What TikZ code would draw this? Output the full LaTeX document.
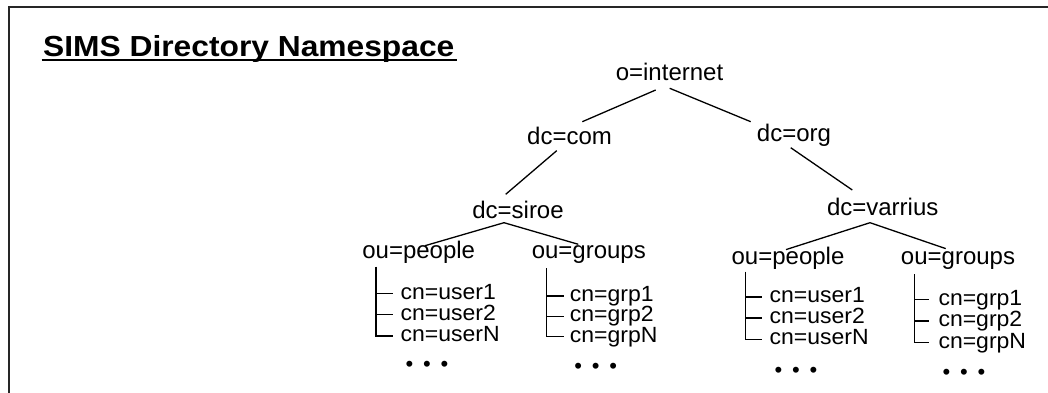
\documentclass[tikz,border=0pt]{standalone}
\usepackage{fontspec}
\setmainfont{Liberation Sans}
\newfontfamily\leaffont[FakeStretch=1.045]{Liberation Sans}
\usetikzlibrary{calc}
\begin{document}
\begin{tikzpicture}[x=1pt,y=-1pt,
  tn/.style={inner sep=0pt, anchor=base, font=\fontsize{24}{28}\selectfont},
  leaf/.style={inner sep=0pt, anchor=base west, text height=14pt, text depth=4pt, font=\leaffont\fontsize{22}{26}\selectfont},
  dotrow/.style={inner sep=0pt, anchor=base, font=\fontsize{22}{24}\selectfont},
  titlestyle/.style={inner sep=0pt, anchor=base west, font=\fontsize{29}{34}\selectfont\bfseries},
  edge/.style={line width=1.3pt, black},
  frame/.style={line width=2pt, black!85}]
\useasboundingbox (0,0) rectangle (1048,393);
% frame (top and left edges only)
\draw[frame] (9,393) -- (9,7) -- (1048,7);
% title
\node[titlestyle] (title) at (43,56.7) {\scalebox{1.095}[1]{SIMS Directory Namespace}};
\draw[line width=2pt] ($(title.base west)+(-1.5,3.2)$) -- ($(title.base east)+(2,3.2)$);
% tree nodes
\node[tn] (internet) at (669.5,81) {o=internet};
\node[tn] (com) at (569.5,144) {dc=com};
\node[tn] (org) at (794,141) {dc=org};
\node[tn] (siroe) at (518,218) {dc=siroe};
\node[tn] (varrius) at (882.7,215) {dc=varrius};
\node[tn] (peopleA) at (418.7,258) {ou=people};
\node[tn] (groupsA) at (588.8,258) {ou=groups};
\node[tn] (peopleB) at (788,264.3) {ou=people};
\node[tn] (groupsB) at (958,264.3) {ou=groups};
% tree edges
\draw[edge] ($(internet.base)+(-13.8,9)$) -- ($(com.base)+(12.8,-22.3)$);
\draw[edge] ($(internet.base)+(0.2,7.3)$) -- ($(org.base)+(-43.3,-19.3)$);
\draw[edge] ($(com.base)+(-12.8,6.7)$) -- ($(siroe.base)+(-12.3,-23.7)$);
\draw[edge] ($(org.base)+(-3.3,6.7)$) -- ($(varrius.base)+(-30.4,-25)$);
\draw[edge] ($(siroe.base)+(-14,4.7)$) -- ($(peopleA.base)+(6.3,-12.3)$);
\draw[edge] ($(siroe.base)+(-14,4.7)$) -- ($(groupsA.base)+(-10.5,-13.7)$);
\draw[edge] ($(varrius.base)+(-12.7,7.7)$) -- ($(peopleB.base)+(-2,-14.7)$);
\draw[edge] ($(varrius.base)+(-12.7,7.7)$) -- ($(groupsB.base)+(-12.3,-15.7)$);
% list 1: siroe people
\node[leaf] (ua1) at (400.5,299) {cn=user1};
\node[leaf] (ua2) at (400.5,320.2) {cn=user2};
\node[leaf] (ua3) at (400.5,341.5) {cn=userN};
\coordinate (va) at ($(peopleA.base)+(-42.7,8.5)$);
\coordinate (ta1) at ($(ua1.base west)+(-7.5,-5.5)$);
\coordinate (ta2) at ($(ua2.base west)+(-7.5,-5.5)$);
\coordinate (ta3) at ($(ua3.base west)+(-7.5,-5.5)$);
\draw[edge] (va) |- (ta3);
\draw[edge] (va |- ta1) -- (ta1);
\draw[edge] (va |- ta2) -- (ta2);
\node[dotrow] (da) at (427,371.5) {•\hspace{9.8pt}•\hspace{9.8pt}•};
% list 2: siroe groups
\node[leaf] (ga1) at (569.7,301.5) {cn=grp1};
\node[leaf] (ga2) at (569.7,321.8) {cn=grp2};
\node[leaf] (ga3) at (569.7,342.2) {cn=grpN};
\coordinate (vb) at ($(groupsA.base)+(-42.5,10.3)$);
\coordinate (tb1) at ($(ga1.base west)+(-5.7,-5.5)$);
\coordinate (tb2) at ($(ga2.base west)+(-5.7,-5.5)$);
\coordinate (tb3) at ($(ga3.base west)+(-5.7,-5.5)$);
\draw[edge] (vb) |- (tb3);
\draw[edge] (vb |- tb1) -- (tb1);
\draw[edge] (vb |- tb2) -- (tb2);
\node[dotrow] (db) at (595.7,373.2) {•\hspace{9.8pt}•\hspace{9.8pt}•};
% list 3: varrius people
\node[leaf] (ub1) at (769.5,302.5) {cn=user1};
\node[leaf] (ub2) at (769.5,323.5) {cn=user2};
\node[leaf] (ub3) at (769.5,344.8) {cn=userN};
\coordinate (vc) at ($(peopleB.base)+(-42.3,7.4)$);
\coordinate (tc1) at ($(ub1.base west)+(-7.5,-5.5)$);
\coordinate (tc2) at ($(ub2.base west)+(-7.5,-5.5)$);
\coordinate (tc3) at ($(ub3.base west)+(-7.5,-5.5)$);
\draw[edge] (vc) |- (tc3);
\draw[edge] (vc |- tc1) -- (tc1);
\draw[edge] (vc |- tc2) -- (tc2);
\node[dotrow] (dc) at (796,377) {•\hspace{9.8pt}•\hspace{9.8pt}•};
% list 4: varrius groups
\node[leaf] (gb1) at (938.3,305) {cn=grp1};
\node[leaf] (gb2) at (938.3,326.5) {cn=grp2};
\node[leaf] (gb3) at (938.3,348) {cn=grpN};
\coordinate (vd) at ($(groupsB.base)+(-43.3,9.7)$);
\coordinate (td1) at ($(gb1.base west)+(-9,-5.5)$);
\coordinate (td2) at ($(gb2.base west)+(-9,-5.5)$);
\coordinate (td3) at ($(gb3.base west)+(-9,-5.5)$);
\draw[edge] (vd) |- (td3);
\draw[edge] (vd |- td1) -- (td1);
\draw[edge] (vd |- td2) -- (td2);
\node[dotrow] (dd) at (964,379.8) {•\hspace{9.8pt}•\hspace{9.8pt}•};
\end{tikzpicture}
\end{document}
